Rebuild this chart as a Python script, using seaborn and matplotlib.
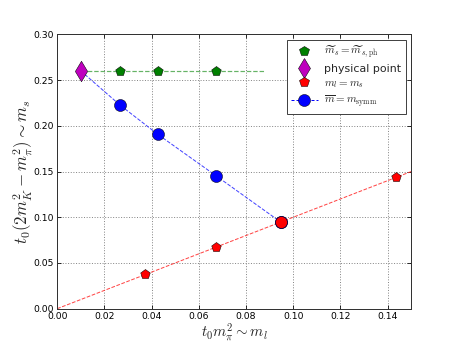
import numpy as np
import pandas as pd
import matplotlib
matplotlib.use('Agg')
import matplotlib.pyplot as plt
import seaborn as sns
from matplotlib.lines import Line2D

# data
phys_x = [0.0100]
phys_y = [0.260]
ms_x = [0.0266, 0.0427, 0.0672]
ms_y = [0.260, 0.260, 0.260]
ml_x = [0.0372, 0.0672, 0.0948, 0.1435]
ml_y = [0.0376, 0.0680, 0.0945, 0.1437]
symm_x = [0.0266, 0.0427, 0.0672, 0.0948]
symm_y = [0.2227, 0.1905, 0.1455, 0.0945]
ms_line_x = [0.0100, 0.088]
ml_line_x = [0.0, 0.16]

labels = [r'$\widetilde{m}_s=\widetilde{m}_{s,\mathrm{ph}}$', 'physical point',
          r'$m_l=m_s$', r'$\overline{m}=m_{\mathrm{symm}}$']

sns.set_style('ticks')
plt.rcParams['font.family'] = ['DejaVu Sans']
plt.rcParams['mathtext.fontset'] = 'cm'

fig, ax = plt.subplots(figsize=(457 / 72, 343 / 72), dpi=72)
fig.patch.set_facecolor('white')
ax.set_facecolor('white')
fig.subplots_adjust(left=0.125, right=0.9, bottom=0.1, top=0.9)

# dashed guide lines
ms_line = pd.DataFrame({'x': ms_line_x, 'y': [ms_y[0]] * len(ms_line_x)})
sns.lineplot(data=ms_line, x='x', y='y', ax=ax, color='#40a040', alpha=0.8,
             linestyle='--', linewidth=1.2, sort=False, zorder=2)
ml_line = pd.DataFrame({'x': ml_line_x, 'y': ml_line_x})
sns.lineplot(data=ml_line, x='x', y='y', ax=ax, color='#ff3030', alpha=0.9,
             linestyle='--', linewidth=1.0, sort=False, zorder=2)
symm_line = pd.DataFrame({'x': phys_x + symm_x, 'y': phys_y + symm_y})
sns.lineplot(data=symm_line, x='x', y='y', ax=ax, color='#3030ff', alpha=0.9,
             linestyle='--', linewidth=1.0, sort=False, zorder=2)

# markers
sns.scatterplot(x=symm_x, y=symm_y, ax=ax, color='blue', marker='o', s=12 ** 2,
                edgecolor='black', linewidth=0.5, zorder=3)
sns.scatterplot(x=ms_x, y=ms_y, ax=ax, color='green', marker='p', s=10 ** 2,
                edgecolor='black', linewidth=0.5, zorder=4)
sns.scatterplot(x=ml_x[:2] + ml_x[3:], y=ml_y[:2] + ml_y[3:], ax=ax, color='red',
                marker='p', s=10 ** 2, edgecolor='black', linewidth=0.5, zorder=4)
sns.scatterplot(x=ml_x[2:3], y=ml_y[2:3], ax=ax, color='red', marker='o', s=12 ** 2,
                edgecolor='#000040', linewidth=0.8, zorder=5)
sns.scatterplot(x=phys_x, y=phys_y, ax=ax, color='#bf00bf', marker='d', s=14.5 ** 2,
                edgecolor='black', linewidth=0.5, zorder=6)

ax.set_xlim(0, 0.15)
ax.set_ylim(0, 0.30)
ax.set_xticks(np.arange(0, 0.141, 0.02))
ax.set_yticks(np.arange(0, 0.301, 0.05))
ax.xaxis.set_major_formatter(matplotlib.ticker.FormatStrFormatter('%.2f'))
ax.yaxis.set_major_formatter(matplotlib.ticker.FormatStrFormatter('%.2f'))
ax.tick_params(direction='in', top=True, right=True, labelsize=9.3, length=4,
               colors='black', pad=3)
ax.grid(True, linestyle=':', color='#888888', linewidth=1.0)
for spine in ax.spines.values():
    spine.set_visible(True); spine.set_color('#333333'); spine.set_linewidth(1.0)

ax.set_xlabel(r'$t_0 m_\pi^2 \sim m_l$', fontsize=15, labelpad=1)
ax.set_ylabel(r'$t_0(2m_K^2-m_\pi^2) \sim m_s$', fontsize=17, labelpad=-1)

handles = [
    Line2D([], [], linestyle='none', marker='p', color='green', markeredgecolor='black',
           markeredgewidth=0.5, markersize=10),
    Line2D([], [], linestyle='none', marker='d', color='#bf00bf', markeredgecolor='black',
           markeredgewidth=0.5, markersize=14.5),
    Line2D([], [], linestyle='none', marker='p', color='red', markeredgecolor='black',
           markeredgewidth=0.5, markersize=10),
    Line2D([], [], linestyle='--', color='blue', marker='o', markerfacecolor='blue',
           markeredgecolor='black', markeredgewidth=0.5, markersize=12, linewidth=1.0,
           dashes=(3, 2)),
]
leg = ax.legend(handles, labels, loc='upper right', fontsize=11, numpoints=1,
                fancybox=False, framealpha=1, edgecolor='#444444',
                handlelength=2.4, borderaxespad=0.5, labelspacing=0.35,
                borderpad=0.4, handletextpad=0.6)
leg.get_frame().set_linewidth(1.0)

fig.savefig('out.png', dpi=72)
